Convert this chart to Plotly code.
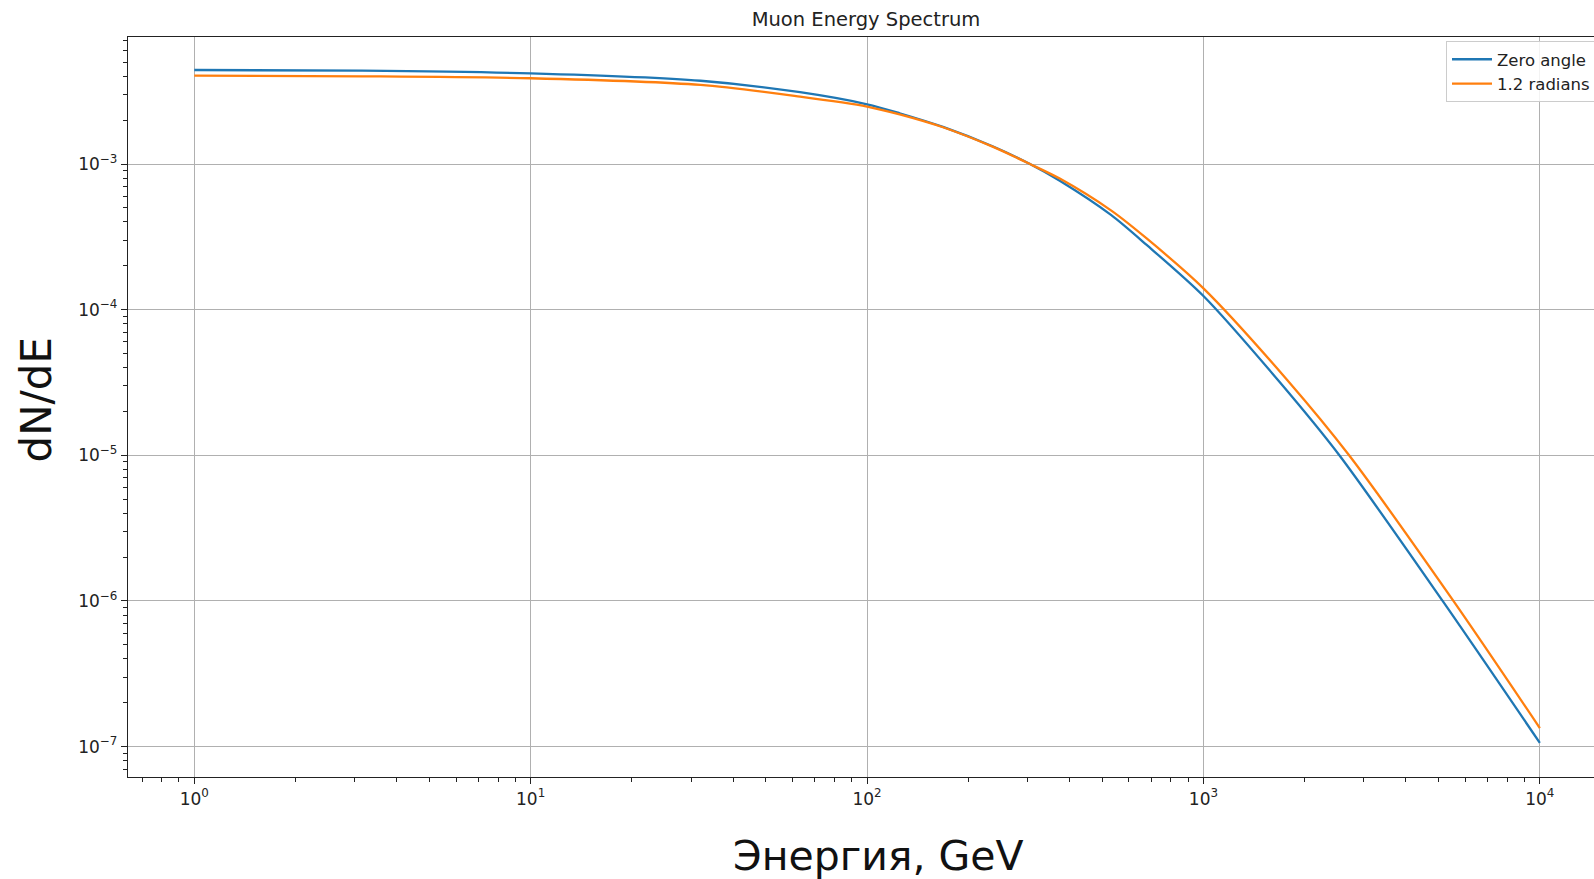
import plotly.graph_objects as go

# ---- data ----
energy_zero = [1, 3.16, 10, 32, 63.2, 100, 125, 169, 237, 305, 374, 531, 678, 1000, 1687, 2535, 5140, 10000]
flux_zero = [4.42e-3, 4.375e-3, 4.19e-3, 3.73e-3, 3.11e-3, 2.57e-3, 2.23e-3, 1.79e-3, 1.318e-3, 1.0e-3,
             7.67e-4, 4.47e-4, 2.78e-4, 1.24e-4, 3.17e-5, 1.0e-5, 1.0e-6, 1.06e-7]

energy_12 = [1, 3.16, 10, 32, 63.2, 100, 125, 169, 237, 305, 374, 531, 678, 1000, 1774, 2710, 5534, 10000]
flux_12 = [4.04e-3, 4.0e-3, 3.88e-3, 3.49e-3, 2.90e-3, 2.48e-3, 2.19e-3, 1.78e-3, 1.31e-3, 1.0e-3,
           7.94e-4, 4.80e-4, 3.08e-4, 1.40e-4, 3.29e-5, 1.0e-5, 1.0e-6, 1.34e-7]

series_names = ["Zero angle", "1.2 radians"]

x_tickvals = [1, 10, 100, 1000, 10000]
x_ticktext = ["10<sup>0</sup>", "10<sup>1</sup>", "10<sup>2</sup>", "10<sup>3</sup>", "10<sup>4</sup>"]
y_tickvals = [1e-7, 1e-6, 1e-5, 1e-4, 1e-3]
y_ticktext = ["10<sup>\u22127</sup>", "10<sup>\u22126</sup>", "10<sup>\u22125</sup>",
              "10<sup>\u22124</sup>", "10<sup>\u22123</sup>"]

title_text = "Muon Energy Spectrum"
x_label = "Энергия, GeV"
y_label = "dN/dE"

FONT = "DejaVu Sans, Verdana, sans-serif"
W, H = 1594, 879
L, R, T, B = 128, 0, 37, 102

fig = go.Figure()
fig.add_trace(go.Scatter(x=energy_zero, y=flux_zero, mode="lines", name=series_names[0],
                         line=dict(color="#1f77b4", width=2.3, shape="spline", smoothing=0.8)))
fig.add_trace(go.Scatter(x=energy_12, y=flux_12, mode="lines", name=series_names[1],
                         line=dict(color="#ff7f0e", width=2.3, shape="spline", smoothing=0.8)))

axis_common = dict(
    type="log",
    showline=True, linecolor="#222", linewidth=1.3,
    ticks="outside", ticklen=6, tickwidth=1.3, tickcolor="#222",
    showgrid=True, gridcolor="#b0b0b0", gridwidth=1.3,
    zeroline=False,
    tickfont=dict(family=FONT, size=17, color="#222"),
    minor=dict(ticks="outside", ticklen=3.5, tickwidth=1, tickcolor="#222", dtick="D1", showgrid=False),
)

fig.update_xaxes(**axis_common, range=[-0.197, 4.161], mirror=True,
                 tickmode="array", tickvals=x_tickvals, ticktext=x_ticktext)
fig.update_yaxes(**axis_common, range=[-7.209, -2.128], mirror=False,
                 tickmode="array", tickvals=y_tickvals, ticktext=y_ticktext)

plot_w = W - L - R
plot_h = H - T - B

fig.update_layout(
    width=W, height=H,
    margin=dict(l=L, r=R, t=T, b=B, pad=0, autoexpand=False),
    paper_bgcolor="white", plot_bgcolor="white",
    font=dict(family=FONT, color="#222"),
    title=dict(text=title_text, x=(866 - L) / plot_w, xref="paper", xanchor="center",
               y=1 - 19.5 / H, yanchor="middle", font=dict(family=FONT, size=19.5, color="#222")),
    showlegend=True,
    legend=dict(x=(1446 - L) / plot_w, y=1 - (41 - T) / plot_h, xanchor="left", yanchor="top",
                bgcolor="rgba(255,255,255,0.85)", bordercolor="#cccccc", borderwidth=1,
                itemwidth=40,
                font=dict(family=FONT, size=16.5, color="#222"), tracegroupgap=0),
    annotations=[
        dict(text=x_label, xref="paper", yref="paper", x=(878 - L) / plot_w, y=-(856 - (T + plot_h)) / plot_h,
             xanchor="center", yanchor="middle", showarrow=False,
             font=dict(family=FONT, size=41, color="#111")),
        dict(text=y_label, xref="paper", yref="paper", x=(35.5 - L) / plot_w, y=1 - (400 - T) / plot_h,
             xanchor="center", yanchor="middle", showarrow=False, textangle=-90,
             font=dict(family=FONT, size=42, color="#111")),
    ],
)

fig.write_html("out.html")
